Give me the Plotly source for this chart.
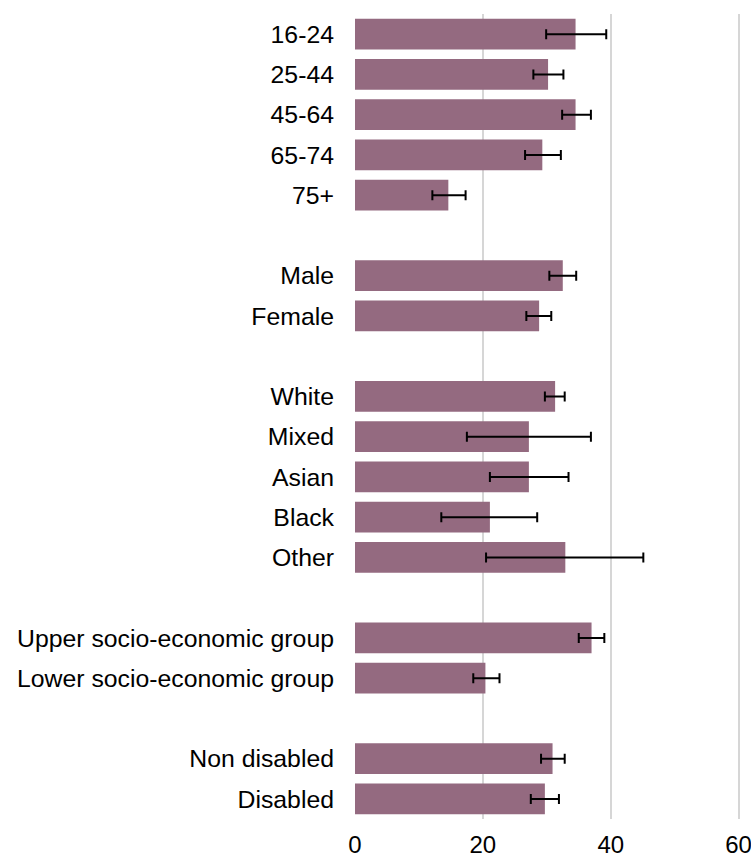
import plotly.graph_objects as go

# Population groups, with a blank slot between each block of bars
groups = [
    ["16-24", "25-44", "45-64", "65-74", "75+"],
    ["Male", "Female"],
    ["White", "Mixed", "Asian", "Black", "Other"],
    ["Upper socio-economic group", "Lower socio-economic group"],
    ["Non disabled", "Disabled"],
]

# Percentage estimates and 95% confidence limits
values = [34.5, 30.2, 34.5, 29.3, 14.6,
          32.5, 28.8,
          31.3, 27.2, 27.2, 21.1, 32.9,
          37.0, 20.4,
          30.9, 29.7]
lower = [29.9, 27.9, 32.4, 26.6, 12.1,
         30.4, 26.8,
         29.7, 17.5, 21.1, 13.5, 20.5,
         35.0, 18.5,
         29.1, 27.5]
upper = [39.3, 32.6, 36.9, 32.2, 17.3,
         34.6, 30.7,
         32.8, 36.9, 33.4, 28.5, 45.1,
         39.0, 22.6,
         32.8, 31.9]

x_ticks = [0, 20, 40, 60]

# Slot positions: each group is followed by an empty slot
labels, positions = [], []
slot = 0
for g in groups:
    for name in g:
        labels.append(name)
        positions.append(slot)
        slot += 1
    slot += 1
last_slot = positions[-1]

err_plus = [u - v for u, v in zip(upper, values)]
err_minus = [v - l for v, l in zip(values, lower)]

fig = go.Figure(
    go.Bar(
        x=values,
        y=positions,
        orientation="h",
        marker=dict(color="#946a80", line=dict(width=0)),
        error_x=dict(
            type="data",
            symmetric=False,
            array=err_plus,
            arrayminus=err_minus,
            color="#000000",
            thickness=2,
            width=5,
        ),
        width=0.76,
    )
)

font_family = "Liberation Sans, Arial, sans-serif"

fig.update_layout(
    width=751,
    height=857,
    margin=dict(l=355, r=8, t=14, b=38, autoexpand=False),
    plot_bgcolor="white",
    paper_bgcolor="white",
    showlegend=False,
    font=dict(family=font_family, size=24.8, color="#000000"),
    xaxis=dict(
        range=[0, 60.69],
        tickvals=x_ticks,
        ticktext=[str(t) for t in x_ticks],
        showgrid=True,
        gridcolor="#d6d6d6",
        gridwidth=2,
        zeroline=False,
        showline=False,
        ticks="",
        ticklabelstandoff=9,
        ticklabeloverflow="allow",
        automargin=False,
        tickfont=dict(size=24),
    ),
    yaxis=dict(
        range=[last_slot + 0.5, -0.5],
        tickvals=positions,
        ticktext=labels,
        showgrid=False,
        zeroline=False,
        showline=False,
        ticks="",
        ticklabelstandoff=20,
        automargin=False,
        tickfont=dict(size=24.8),
    ),
)

fig.write_html("out.html")
